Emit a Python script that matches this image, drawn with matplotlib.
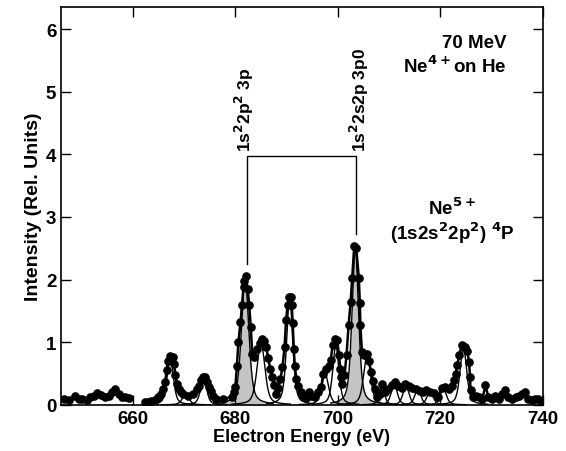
import numpy as np
import matplotlib
matplotlib.use("Agg")
import matplotlib.pyplot as plt

plt.rcParams['font.family'] = ['Liberation Sans', 'DejaVu Sans']
plt.rcParams['font.weight'] = 'bold'
plt.rcParams['axes.labelweight'] = 'bold'
plt.rcParams['mathtext.default'] = 'bf'

# measured spectrum (eV, relative intensity); nan breaks the line at the gap
energy = [646.5, 647.5, 648.7, 649.5, 650.1, 651.0, 651.7, 652.5, 653.0, 653.8,
          654.5, 655.3, 656.0, 656.6, 657.2, 657.8, 658.5, 659.2, 661.0,
          662.3, 663.0, 663.6, 664.3, 665.0, 665.5, 665.9, 666.3, 666.6, 666.8,
          667.3, 667.8, 668.0, 668.3, 668.6, 669.0, 669.4, 669.8, 670.8, 671.8,
          672.5, 672.9, 673.3, 673.7, 674.1, 674.4, 674.8, 675.2, 675.7, 676.2,
          677.5, 679.3, 679.8, 680.0, 680.3, 680.6, 681.0, 681.3, 681.6, 681.7,
          682.0, 682.4, 682.7, 683.0, 683.3, 683.7, 684.3, 684.8, 685.2, 685.5,
          686.0, 686.4, 686.8, 687.2, 687.6, 688.0, 688.4, 688.8, 689.2, 689.6,
          689.9, 690.2, 690.5, 690.8, 691.0, 691.2, 691.4, 691.6, 691.9, 692.3,
          692.8, 693.3, 693.8, 694.3, 694.8, 695.5, 696.2, 696.8, 697.1, 697.6,
          698.2, 698.6, 699.0, 699.4, 699.9, 700.2, 700.5, 700.7, 700.9, 701.3,
          701.7, 702.1, 702.5, 702.8, 703.2, 703.6, 704.1, 704.3, 704.4, 704.7,
          705.1, 705.6, 706.1, 706.5, 706.9, 707.3, 707.7, 708.2, 708.6, 709.2,
          709.8, 710.5, 711.2, 711.8, 712.5, 713.2, 713.9, 714.5, 715.2, 716.0,
          716.6, 717.3, 718.0, 718.7, 719.5, 720.3, 720.9, 721.6, 722.2, 722.7,
          723.0, 723.3, 723.7, 724.2, 724.8, 725.3, 725.6, 725.8, 725.9, 726.4,
          727.0, 727.6, 728.2, 728.8, 729.4, 730.0, 730.7, 731.4, 732.1, 732.7,
          733.3, 734.0, 734.7, 735.4, 736.0, 736.5, 737.2, 737.8, 738.4, 739.0,
          739.6]
intensity = [0.10, 0.08, 0.15, 0.09, 0.10, 0.08, 0.13, 0.14, 0.19, 0.16,
             0.12, 0.15, 0.20, 0.26, 0.18, 0.12, 0.13, 0.11, np.nan,
             0.04, 0.05, 0.06, 0.08, 0.12, 0.18, 0.26, 0.37, 0.55, 0.70,
             0.78, 0.76, 0.65, 0.48, 0.33, 0.25, 0.20, 0.18, 0.14, 0.17,
             0.25, 0.30, 0.39, 0.45, 0.44, 0.36, 0.28, 0.22, 0.15, 0.10,
             0.10, 0.12, 0.20, 0.28, 0.62, 1.00, 1.32, 1.60, 1.88, 1.97,
             2.05, 1.85, 1.60, 1.25, 0.82, 0.76, 0.90, 0.99, 1.05, 1.02,
             0.93, 0.75, 0.58, 0.45, 0.32, 0.18, 0.27, 0.42, 0.60, 0.92,
             1.35, 1.60, 1.72, 1.73, 1.60, 1.30, 0.90, 0.62, 0.42, 0.30,
             0.20, 0.12, 0.11, 0.20, 0.14, 0.12, 0.20, 0.28, 0.50, 0.58,
             0.62, 0.72, 0.95, 1.05, 1.04, 0.80, 0.58, 0.45, 0.33, 0.47,
             0.80, 1.27, 1.64, 2.02, 2.53, 2.50, 2.02, 1.62, 1.27, 0.85,
             0.80, 0.81, 0.70, 0.52, 0.38, 0.26, 0.13, 0.18, 0.33, 0.20,
             0.25, 0.32, 0.37, 0.30, 0.27, 0.34, 0.30, 0.27, 0.25, 0.22,
             0.20, 0.24, 0.21, 0.19, 0.12, 0.27, 0.29, 0.25, 0.30, 0.40,
             0.50, 0.63, 0.80, 0.96, 0.93, 0.86, 0.68, 0.45, 0.24, 0.13,
             0.14, 0.12, 0.09, 0.31, 0.12, 0.10, 0.14, 0.10, 0.17, 0.23,
             0.12, 0.10, 0.13, 0.15, 0.18, 0.20, 0.09, 0.08, 0.10, 0.09,
             0.06]

# fitted line components: centre (eV), height, width (FWHM, eV)
peak_centre = [667.3, 670.3, 673.8, 681.9, 685.0, 690.6, 697.5, 699.6, 703.4,
               705.7, 708.6, 711.0, 713.3, 715.6, 718.0, 720.6, 724.5]
peak_height = [0.78, 0.18, 0.44, 2.02, 1.00, 1.72, 0.50, 0.95, 2.50,
               0.80, 0.30, 0.33, 0.30, 0.25, 0.22, 0.26, 0.93]
peak_width = [1.4, 1.5, 1.4, 1.7, 1.8, 1.4, 1.6, 1.4, 1.5,
              1.6, 1.2, 1.4, 1.4, 1.4, 1.4, 1.4, 1.5]
shaded = [681.9, 703.4]


def line_shape(x, c, h, w):
    # pseudo-Voigt, half Lorentzian / half Gaussian
    lor = 1.0 / (1.0 + ((x - c) / (w / 2)) ** 2)
    gau = np.exp(-np.log(2) * ((x - c) / (w / 2)) ** 2)
    return h * (0.5 * lor + 0.5 * gau)


fig = plt.figure(figsize=(5.66, 4.52), dpi=100)
ax = fig.add_axes([0.108, 0.102, 0.851, 0.880])

for c, h, w in zip(peak_centre, peak_height, peak_width):
    xs = np.linspace(c - 3.2 * w, c + 3.2 * w, 200)
    ys = line_shape(xs, c, h, w)
    if c in shaded:
        ax.fill_between(xs, 0, ys, color='#c4c4c4', lw=0, zorder=1)
    ax.plot(xs, ys, color='black', lw=1.0, zorder=2)

ax.plot(energy, intensity, color='black', lw=1.8, marker='o', ms=5.2,
        zorder=3)

# bracket linking the two 3P terms
ax.plot([682.3, 682.3, 703.6, 703.6], [2.25, 3.98, 3.98, 2.73],
        color='black', lw=1.0)
ax.text(681.7, 4.06, r'1s$^2$2p$^2$ 3p', rotation=90, ha='center',
        va='bottom', fontsize=12.5)
ax.text(704.2, 4.06, r'1s$^2$2s2p 3p0', rotation=90, ha='center',
        va='bottom', fontsize=12.5)

ax.text(733.0, 5.72, '70 MeV', ha='right', va='baseline', fontsize=13.5)
ax.text(733.0, 5.32, r'Ne$^{4+}$on He', ha='right', va='baseline',
        fontsize=13.5)
ax.text(722.3, 3.05, r'Ne$^{5+}$', ha='center', va='baseline', fontsize=13.5)
ax.text(722.3, 2.65, r'(1s2s$^2$2p$^2$) $^4$P', ha='center',
        va='baseline', fontsize=13.5)

ax.set_xlim(646, 740)
ax.set_ylim(0, 6.35)
ax.set_xticks([660, 680, 700, 720, 740])
ax.set_yticks([0, 1, 2, 3, 4, 5, 6])
ax.tick_params(direction='in', length=7, width=1, top=True, right=True,
               labelsize=13.5)
for s in ax.spines.values():
    s.set_linewidth(1.2)
ax.set_xlabel('Electron Energy (eV)', fontsize=13, labelpad=1)
ax.set_ylabel('Intensity (Rel. Units)', fontsize=14, labelpad=3)

fig.savefig('out.png', dpi=100)
